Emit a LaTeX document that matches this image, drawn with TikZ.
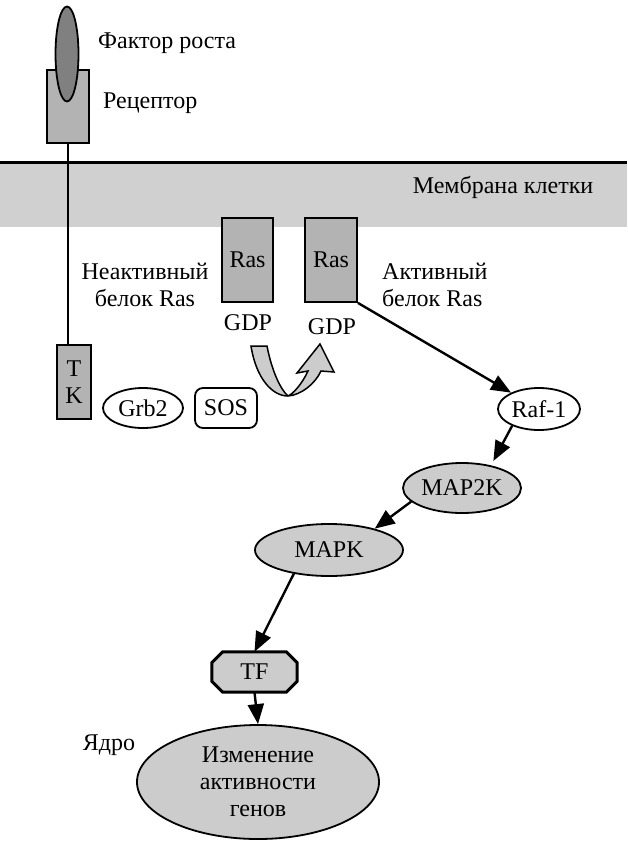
\documentclass[tikz,border=0pt]{standalone}
\usepackage{fontspec}
\setmainfont{Liberation Serif}
\usetikzlibrary{arrows.meta,shapes.geometric}
\definecolor{membr}{HTML}{D0D0D0}
\definecolor{boxgray}{HTML}{B3B3B3}
\definecolor{darkgray}{HTML}{808080}
\definecolor{lightfill}{HTML}{CCCCCC}
\begin{document}
\begin{tikzpicture}[x=1pt,y=-1pt,
  every node/.style={font=\fontsize{24}{27}\selectfont, inner sep=0pt},
  protbox/.style={draw, fill=boxgray, line width=1.8pt, align=center},
  oval/.style={draw, ellipse, line width=1.8pt, align=center},
  grayoval/.style={oval, fill=lightfill},
  conn/.style={line width=2.4pt, -{Triangle[length=20pt,width=16pt]}},
  lbl/.style={align=center}
]
\useasboundingbox (0,0) rectangle (627,841);

% cell membrane
\fill[membr] (0,162) rectangle (627,227);
\draw[line width=3pt] (0,162) -- (627,162);
\node (memlbl) at (503,187) {Мембрана клетки};

% receptor with its growth factor
\node[protbox, minimum width=42pt, minimum height=73pt] (rec) at (68,106.5) {};
\node[oval, fill=darkgray, minimum width=23pt, minimum height=95pt] (gf) at (67,54) {};
\node[anchor=west] (gflbl) at (98,43) {Фактор роста};
\node[anchor=west] (reclbl) at (103,103) {Рецептор};

% tyrosine kinase domain
\node[protbox, minimum width=34pt, minimum height=74pt] (tk) at (74,382) {T\\K};
\draw[line width=2.4pt] (rec.south) -- (rec.south |- tk.north);

% adaptor proteins
\node[oval, minimum width=80pt, minimum height=40pt] (grb) at (143,408) {Grb2};
\node[draw, rounded corners=8pt, line width=1.8pt, minimum width=62pt, minimum height=40pt] (sos) at (226,408) {SOS};

% Ras: inactive and active
\node[protbox, minimum width=51pt, minimum height=84pt] (ras1) at (247.5,260) {Ras};
\node[protbox, minimum width=52pt, minimum height=84pt] (ras2) at (331,260) {Ras};
\node (gdp1) at (248,323) {GDP};
\node (gdp2) at (332,327) {GDP};
\node[lbl] (inact) at (145,285) {Неактивный\\белок Ras};
\node[align=left, anchor=west] (act) at (382,285) {Активный\\белок Ras};

% exchange arrow
\draw[fill=lightfill, line width=1.5pt, line join=miter]
  (251,346) .. controls (256,378) and (272,396) .. (288,396)
  .. controls (301,395) and (315,384) .. (321,371)
  -- (334,372) -- (320,344) -- (297,373) -- (308,371)
  .. controls (302,384) and (293,394) .. (288,396)
  .. controls (281,390) and (272,372) .. (267,346) -- cycle;

% kinase cascade
\node[oval, minimum width=82pt, minimum height=42pt] (raf) at (539,409) {Raf-1};
\node[grayoval, minimum width=118pt, minimum height=50pt] (map2k) at (462,488) {MAP2K};
\node[grayoval, minimum width=148pt, minimum height=52pt] (mapk) at (329,550) {MAPK};
\node[minimum width=85pt, minimum height=40pt] (tf) at (254.5,672) {};
% octagonal outline of the transcription factor
\draw[fill=lightfill, line width=3pt, line join=miter]
  ([xshift=11pt]tf.north west) -- ([xshift=-11pt]tf.north east)
  -- ([yshift=-11pt]tf.north east) -- ([yshift=11pt]tf.south east)
  -- ([xshift=-11pt]tf.south east) -- ([xshift=11pt]tf.south west)
  -- ([yshift=11pt]tf.south west) -- ([yshift=-11pt]tf.north west) -- cycle;
\node (tflbl) at (tf.center) {TF};
\node[grayoval, minimum width=242pt, minimum height=114pt] (genes) at (258,782) {Изменение\\активности\\генов};
\node (nucl) at (109,745) {Ядро};

\draw[conn] (ras2.south east) -- (raf);
\draw[conn, shorten >=5pt] (raf.212) -- (map2k.38);
\draw[conn] (map2k.195) -- (mapk.25);
\draw[conn] (mapk.214) -- (tf.north);
\draw[conn] (tf.south) -- (genes.north);
\end{tikzpicture}
\end{document}
